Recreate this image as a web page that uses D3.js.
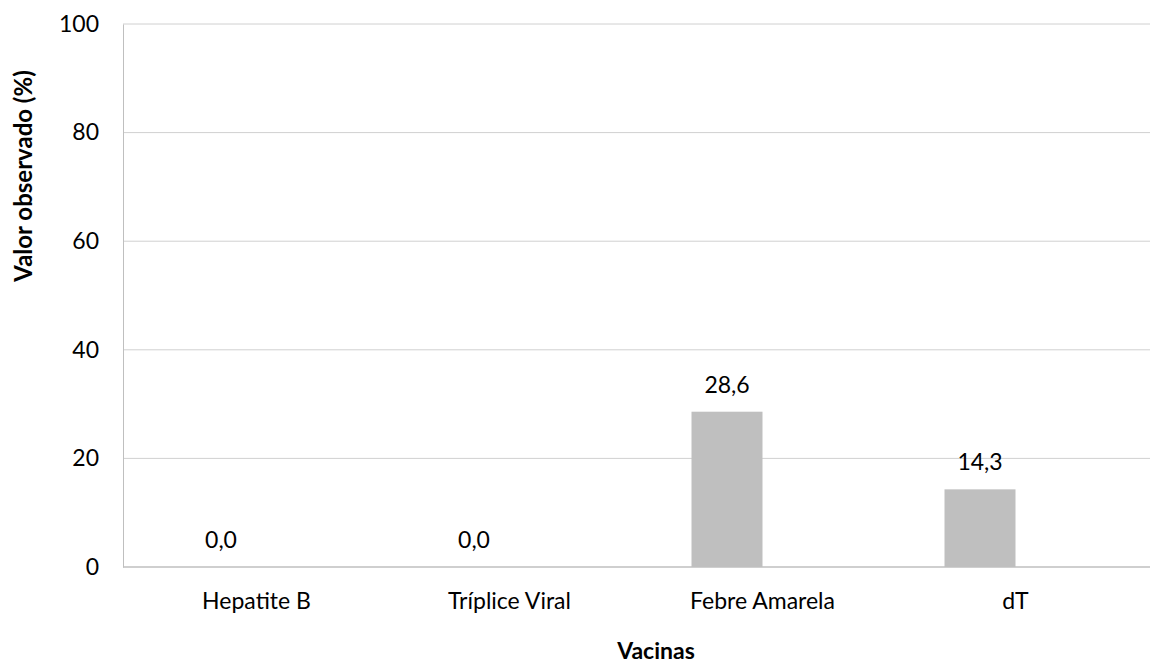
<!DOCTYPE html>
<html>
<head>
<meta charset="utf-8">
<script src="https://cdn.jsdelivr.net/npm/d3@7"></script>
<style>
  body { margin: 0; background: #fff; }
  text { font-family: Lato, "Open Sans", sans-serif; fill: #000; }
</style>
</head>
<body>
<div id="chart"></div>
<script>
// dados
const vacinas = ["Hepatite B", "Tríplice Viral", "Febre Amarela", "dT"];
const valores = [0.0, 0.0, 28.6, 14.3];
const yTicks = [0, 20, 40, 60, 80, 100];

const width = 1150;
const height = 666;
const margin = { top: 24, right: 15, bottom: 99, left: 123 };

const svg = d3.select("#chart")
    .append("svg")
    .attr("width", width)
    .attr("height", height);

// escala das categorias
const x = d3.scaleBand()
    .domain(vacinas)
    .range([130, 130 + 4 * 253])
    .padding(0);

// barras ficam na primeira metade do grupo (serie vazia ao lado)
const xInner = d3.scaleBand()
    .domain(["valor", "vazio"])
    .range([-71, 71]);

const y = d3.scaleLinear()
    .domain([0, 100])
    .range([height - margin.bottom, margin.top]);

// grade
svg.append("g")
    .selectAll("line")
    .data(yTicks)
    .enter()
    .append("line")
    .attr("x1", margin.left)
    .attr("x2", width)
    .attr("y1", d => y(d))
    .attr("y2", d => y(d))
    .attr("stroke", d => d === 0 ? "#bfbfbf" : "#d0d0d0")
    .attr("stroke-width", d => d === 0 ? 1.5 : 1);

// eixo y
const yAxis = svg.append("g")
    .attr("transform", "translate(" + margin.left + ",0)")
    .call(d3.axisLeft(y).tickValues(yTicks).tickSize(0).tickPadding(24));
yAxis.select(".domain").attr("stroke", "#bfbfbf");
yAxis.selectAll("text")
    .style("font-size", "23px")
    .style("font-family", "Lato, sans-serif")
    .attr("fill", "#000");

// eixo x
const xAxis = svg.append("g")
    .attr("transform", "translate(0," + y(0) + ")")
    .call(d3.axisBottom(x).tickSize(0).tickPadding(26));
xAxis.select(".domain").remove();
xAxis.selectAll("text")
    .style("font-size", "23px")
    .style("font-family", "Lato, sans-serif")
    .attr("fill", "#000");

// barras
svg.selectAll(".bar")
    .data(valores)
    .enter()
    .append("rect")
    .attr("class", "bar")
    .attr("x", (d, i) => x(vacinas[i]) + x.bandwidth() / 2 + xInner("valor"))
    .attr("y", d => y(d))
    .attr("width", xInner.bandwidth())
    .attr("height", d => y(0) - y(d))
    .attr("fill", "#bfbfbf");

// rotulos
svg.selectAll(".rotulo")
    .data(valores)
    .enter()
    .append("text")
    .attr("class", "rotulo")
    .attr("x", (d, i) => x(vacinas[i]) + x.bandwidth() / 2 + xInner("valor") + xInner.bandwidth() / 2)
    .attr("y", d => y(d) - 19)
    .attr("text-anchor", "middle")
    .style("font-size", "23px")
    .text(d => d.toFixed(1).replace(".", ","));

// titulos
svg.append("text")
    .attr("transform", "translate(32,176)rotate(-90)")
    .attr("text-anchor", "middle")
    .style("font-size", "24px")
    .style("font-weight", "bold")
    .text("Valor observado (%)");

svg.append("text")
    .attr("x", 656)
    .attr("y", 659)
    .attr("text-anchor", "middle")
    .style("font-size", "23px")
    .style("font-weight", "bold")
    .text("Vacinas");
</script>
</body>
</html>
